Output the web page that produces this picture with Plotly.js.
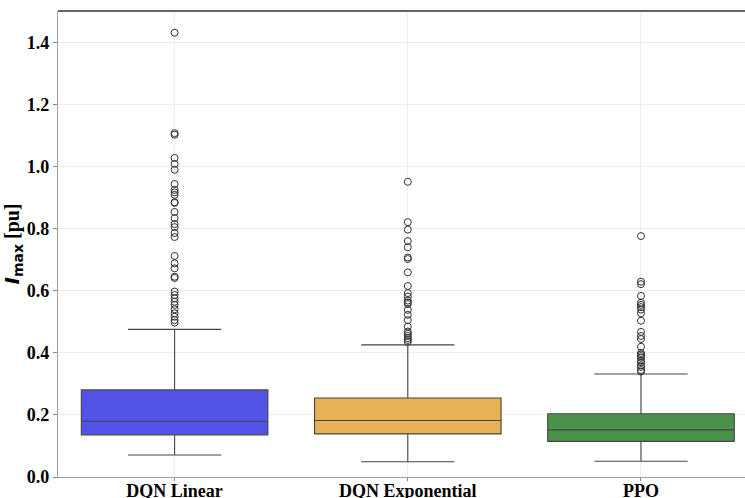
<!DOCTYPE html>
<html><head><meta charset="utf-8">
<script src="https://cdn.plot.ly/plotly-3.0.1.min.js"></script>
<style>html,body{margin:0;padding:0;background:#fff}</style>
</head><body>
<div id="chart" style="width:745px;height:498px"></div>
<script>
const categories = ['DQN Linear', 'DQN Exponential', 'PPO'];
const lowerWhisker = [0.071, 0.049, 0.051];
const q1 = [0.136, 0.139, 0.115];
const medians = [0.180, 0.182, 0.152];
const q3 = [0.281, 0.255, 0.204];
const upperWhisker = [0.476, 0.426, 0.332];
const boxColors = ['rgba(83,83,232,1)', 'rgba(230,178,85,1)', 'rgba(74,145,74,1)'];

const outliersLinear = [1.433, 1.109, 1.104, 1.029, 1.010, 0.991, 0.945, 0.926, 0.918, 0.910, 0.886, 0.884,
  0.855, 0.835, 0.816, 0.806, 0.787, 0.774, 0.713, 0.689, 0.673, 0.646, 0.642, 0.598, 0.587, 0.576,
  0.565, 0.555, 0.541, 0.528, 0.517, 0.506, 0.498];
const outliersExponential = [0.952, 0.822, 0.798, 0.761, 0.741, 0.708, 0.703, 0.660, 0.616, 0.593, 0.582,
  0.569, 0.563, 0.558, 0.539, 0.523, 0.506, 0.485, 0.469, 0.462, 0.455, 0.448, 0.442, 0.436];
const outliersPPO = [0.777, 0.630, 0.622, 0.584, 0.562, 0.555, 0.548, 0.540, 0.528, 0.504, 0.468, 0.455,
  0.445, 0.420, 0.400, 0.395, 0.390, 0.385, 0.375, 0.370, 0.360, 0.355, 0.345, 0.340];
const outlierSets = [outliersLinear, outliersExponential, outliersPPO];

const traces = [];
categories.forEach((c, i) => {
  traces.push({
    type: 'box',
    x: [c],
    q1: [q1[i]], median: [medians[i]], q3: [q3[i]],
    lowerfence: [lowerWhisker[i]], upperfence: [upperWhisker[i]],
    width: 0.8,
    whiskerwidth: 0.5,
    fillcolor: boxColors[i],
    line: {color: '#454545', width: 1.1},
    boxpoints: false,
    showlegend: false,
    hoverinfo: 'y'
  });
  traces.push({
    type: 'scatter', mode: 'markers',
    x: outlierSets[i].map(() => c),
    y: outlierSets[i],
    marker: {symbol: 'circle-open', size: 7, color: '#333', line: {width: 1, color: '#333'}},
    showlegend: false
  });
});

const layout = {
  width: 745, height: 498,
  margin: {l: 58, r: 0, t: 11, b: 21},
  paper_bgcolor: '#fff', plot_bgcolor: '#fff',
  font: {family: 'Liberation Serif, Times New Roman, serif', color: '#000'},
  xaxis: {
    type: 'category', categoryorder: 'array', categoryarray: categories,
    range: [-0.5, 2.446],
    showgrid: true, gridcolor: '#ececec', gridwidth: 1,
    showline: true, linecolor: '#a0a0a0', linewidth: 1.2,
    ticks: 'outside', ticklen: 3, tickcolor: '#888', tickwidth: 1,
    ticklabelstandoff: -6,
    tickfont: {size: 18, family: 'Liberation Serif', weight: 'bold', color: '#000'},
    zeroline: false, automargin: false
  },
  yaxis: {
    range: [0, 1.503],
    tickvals: [0, 0.2, 0.4, 0.6, 0.8, 1.0, 1.2, 1.4],
    ticktext: ['0.0', '0.2', '0.4', '0.6', '0.8', '1.0', '1.2', '1.4'],
    showgrid: true, gridcolor: '#ececec', gridwidth: 1,
    showline: true, linecolor: '#a0a0a0', linewidth: 1.2,
    ticks: 'outside', ticklen: 4, tickcolor: '#888', tickwidth: 1,
    tickfont: {size: 18, family: 'Liberation Serif', weight: 'bold', color: '#000'},
    zeroline: false, automargin: false,
    title: {
      text: '<span style="font-family:DejaVu Sans"><b><i>I</i></b><sub><b>max</b></sub></span><b> [pu]</b>',
      font: {size: 20, family: 'Liberation Serif', color: '#000'},
      standoff: 8
    }
  },
  shapes: [{type: 'line', xref: 'paper', yref: 'paper', x0: 0, x1: 1, y0: 1, y1: 1,
    line: {color: '#333', width: 1.5}}]
};

Plotly.newPlot('chart', traces, layout, {displayModeBar: false, staticPlot: true});
</script>
</body></html>
